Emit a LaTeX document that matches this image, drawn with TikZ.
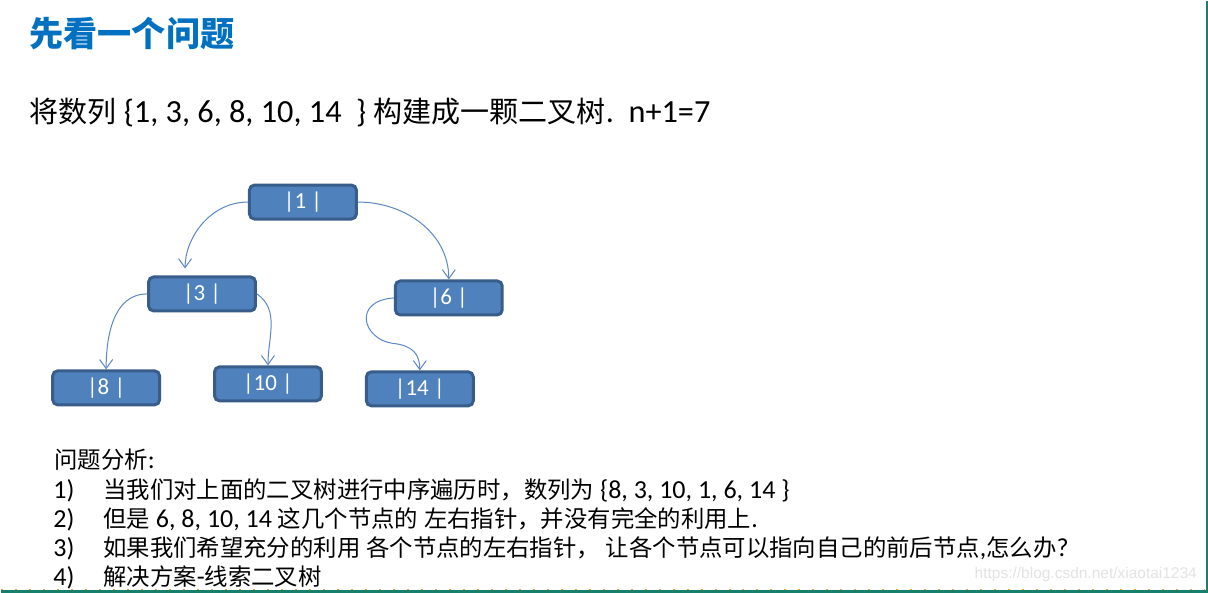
\documentclass[tikz,border=0pt]{standalone}
\usepackage{fontspec}
\setmainfont{Carlito}
\newfontfamily\cjk[Scale=0.9]{Noto Sans CJK SC}
\newfontfamily\urlfont{Liberation Sans}
\usetikzlibrary{arrows.meta}
\definecolor{titleblue}{HTML}{0070C0}
\definecolor{nodefill}{HTML}{4F81BD}
\definecolor{nodeedge}{HTML}{385D8A}
\definecolor{linkblue}{HTML}{5B87C5}
\definecolor{frameteal}{HTML}{17806D}
\definecolor{frameorange}{HTML}{F0A030}
\newcommand{\zh}[1]{{\cjk #1}}
\tikzset{
  treenode/.style={rounded corners=5pt,draw=nodeedge,line width=3pt,fill=nodefill,
                   minimum width=107pt,minimum height=34pt,text=white,
                   font=\fontsize{23}{26}\selectfont},
  link/.style    ={-{Straight Barb[length=9pt,width=13pt]},line width=1pt,draw=linkblue},
  textline/.style={anchor=base west,inner sep=0pt,font=\fontsize{26}{30}\selectfont}
}

\begin{document}
\begin{tikzpicture}[x=1pt,y=1pt]
  \fill[white] (0,0) rectangle (1208,-592);
  % heading and task
  \node[anchor=base west,inner sep=0pt,text=titleblue,
        font=\fontsize{38}{44}\selectfont\bfseries] (title) at (28,-45) {\zh{先看一个问题}};
  \node[anchor=base west,inner sep=0pt,font=\fontsize{32.3}{38}\selectfont] (task) at (28,-121)
    {\zh{将数列} \{1, 3, 6, 8, 10, 14~~\} \zh{构建成一颗二叉树}.~~n+1=7};
  % the tree
  \node[treenode] (n1)  at (302,-201) {|1 |};
  \node[treenode] (n3)  at (201,-293) {|3 |};
  \node[treenode] (n6)  at (448,-297) {|6 |};
  \node[treenode] (n8)  at (105,-387) {|8 |};
  \node[treenode] (n10) at (267,-383) {|10 |};
  \node[treenode] (n14) at (419,-388) {|14 |};
  \draw[link,shorten >=7pt] (n1.west) to[out=180,in=90] ([xshift=-17pt]n3.north);
  \draw[link] (n1.east) to[out=0,in=90] (n6.north);
  \draw[link] (n3.west) to[out=180,in=90] (n8.north);
  \draw[link] (n3.east) to[out=-35,in=90] (n10.north);
  \draw[link] (n6.west) .. controls +(-42,-3) and +(-30,4) .. ([xshift=-27pt,yshift=27pt]n14.north)
                        .. controls +(20,-2) and +(0,16) .. (n14.north);
  % analysis
  \node[textline] (head) at (53,-468) {\zh{问题分析}:};
  \node[textline] (num1) at (52,-498) {1)};
  \node[textline] (q1) at (102,-498) {\zh{当我们对上面的二叉树进行中序遍历时，数列为} \{8, 3, 10, 1, 6, 14 \}};
  \node[textline] (num2) at (52,-527) {2)};
  \node[textline] (q2) at (102,-527) {\zh{但是} 6, 8, 10, 14 \zh{这几个节点的} \zh{左右指针，并没有完全的利用上}.};
  \node[textline] (num3) at (52,-556) {3)};
  \node[textline] (q3) at (102,-556) {\zh{如果我们希望充分的利用} \zh{各个节点的左右指针，} \zh{让各个节点可以指向自己的前后节点},\zh{怎么办}?};
  \node[textline] (num4) at (52,-585) {4)};
  \node[textline] (q4) at (102,-585) {\zh{解决方案}-\zh{线索二叉树}};
  \node[anchor=base east,inner sep=0pt,text=gray!22,
        font=\urlfont\fontsize{15.5}{18}\selectfont] (mark) at (1197,-578) {https://blog.csdn.net/xiaotai1234};
  % slide frame
  \draw[frameteal,line width=2.5pt] (1206.75,0) -- (1206.75,-590.75) -- (0,-590.75);
  \draw[frameorange,line width=1.2pt,dash pattern=on 2pt off 12pt] (0,-588.5) -- (1205,-588.5);
\end{tikzpicture}
\end{document}
